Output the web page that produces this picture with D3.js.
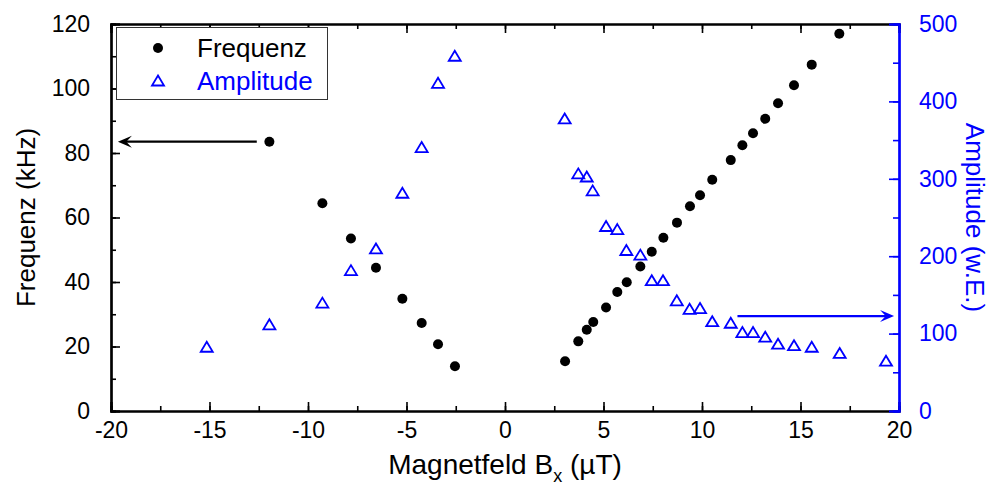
<!DOCTYPE html>
<html>
<head>
<meta charset="utf-8">
<script src="https://cdn.jsdelivr.net/npm/d3@7"></script>
<style>
  html, body { margin: 0; padding: 0; background: #fff; }
  svg { display: block; font-family: "Liberation Sans", Arial, sans-serif; }
</style>
</head>
<body>
<div id="chart"></div>
<script>
// Data
const freqField = [-11.96, -9.27, -7.82, -6.55, -5.21, -4.23, -3.4, -2.54,
  3.05, 3.72, 4.15, 4.48, 5.13, 5.7, 6.18, 6.87, 7.45, 8.04, 8.73, 9.39, 9.9,
  10.52, 11.46, 12.05, 12.59, 13.21, 13.86, 14.67, 15.57, 16.97];
const freqValues = [83.5, 64.4, 53.5, 44.4, 34.8, 27.3, 20.7, 13.9,
  15.4, 21.6, 25.2, 27.6, 32.1, 36.9, 39.9, 44.8, 49.4, 53.7, 58.4, 63.5, 66.9,
  71.7, 77.8, 82.4, 86.1, 90.6, 95.4, 101.0, 107.4, 117.0];

const ampField = [-15.14, -11.96, -9.27, -7.82, -6.55, -5.21, -4.23, -3.4, -2.55,
  3.03, 3.72, 4.15, 4.45, 5.13, 5.7, 6.16, 6.87, 7.45, 8.02, 8.72, 9.37, 9.9,
  10.52, 11.46, 12.05, 12.59, 13.21, 13.86, 14.67, 15.57, 16.99, 19.34];
const ampValues = [83, 112, 140, 182, 210, 282, 341, 424, 459,
  378, 307, 303, 285, 239, 235, 208, 202, 169, 169, 143, 132, 133,
  116, 114, 102, 102, 96, 87, 85, 83, 75, 65];

const xTicks = [-20, -15, -10, -5, 0, 5, 10, 15, 20];
const yTicks = [0, 20, 40, 60, 80, 100, 120];
const y2Ticks = [0, 100, 200, 300, 400, 500];

const seriesNames = ["Frequenz", "Amplitude"];

// arrows point each series to its axis: [x0, x1, y]
const freqArrow = [-12.6, -19.65, 83.5];
const ampArrow = [11.8, 19.75, 122.7];

const width = 995;
const height = 489;
const margin = { top: 24, right: 96, bottom: 78, left: 111 };
const blue = "#0000ff";

const x = d3.scaleLinear().domain([-20, 20]).range([margin.left, width - margin.right]);
const y = d3.scaleLinear().domain([0, 120]).range([height - margin.bottom, margin.top]);
const y2 = d3.scaleLinear().domain([0, 500]).range([height - margin.bottom, margin.top]);

const svg = d3.select("#chart")
  .append("svg")
  .attr("width", width)
  .attr("height", height);

// triangle centred on its bounding box
function triangle(cx, cy, w, h) {
  return `M${cx},${cy - h / 2}L${cx + w / 2},${cy + h / 2}L${cx - w / 2},${cy + h / 2}Z`;
}

function arrowHead(tipX, tipY, dir, len, half) {
  const b = tipX - dir * len;
  const n = tipX - dir * len * 0.6;
  return `M${tipX},${tipY}L${b},${tipY - half}L${n},${tipY}L${b},${tipY + half}Z`;
}

const fontTick = 23;
const fontTitle = 26;

// minor ticks every half step
const xMinor = d3.range(-20, 20.01, 2.5);
const yMinor = d3.range(0, 120.01, 10);
const y2Minor = d3.range(0, 500.01, 50);

const axes = svg.append("g").attr("class", "axes");

// bottom and top x axes (ticks inward)
axes.append("g").attr("transform", `translate(0,${y(0)})`)
  .call(d3.axisBottom(x).tickValues(xMinor).tickSize(-5).tickFormat(""));
axes.append("g").attr("transform", `translate(0,${y(0)})`)
  .call(d3.axisBottom(x).tickValues(xTicks).tickSize(-9).tickPadding(11))
  .call((g) => g.selectAll("text").attr("font-size", fontTick).attr("font-family", null)
    .text((d) => (d < 0 ? "-" + Math.abs(d) : d)));
axes.append("g").attr("transform", `translate(0,${y(120)})`)
  .call(d3.axisTop(x).tickValues(xMinor).tickSize(-5).tickFormat(""));
axes.append("g").attr("transform", `translate(0,${y(120)})`)
  .call(d3.axisTop(x).tickValues(xTicks).tickSize(-9).tickFormat(""));

// left axis
axes.append("g").attr("transform", `translate(${x(-20)},0)`)
  .call(d3.axisLeft(y).tickValues(yMinor).tickSize(-5).tickFormat(""));
axes.append("g").attr("transform", `translate(${x(-20)},0)`)
  .call(d3.axisLeft(y).tickValues(yTicks).tickSize(-9).tickPadding(21))
  .call((g) => g.selectAll("text").attr("font-size", fontTick).attr("font-family", null));

axes.selectAll(".domain").attr("stroke", "#000");

// right axis, blue
const right = axes.append("g").attr("transform", `translate(${x(20)},0)`);
right.append("g").call(d3.axisRight(y2).tickValues(y2Minor).tickSize(-6).tickFormat(""));
right.append("g").call(d3.axisRight(y2).tickValues(y2Ticks).tickSize(-10).tickPadding(20))
  .call((g) => g.selectAll("text").attr("font-size", fontTick).attr("font-family", null));
right.selectAll("line, path").attr("stroke", blue);
right.selectAll("text").attr("fill", blue);

axes.selectAll(".domain").attr("stroke-width", 2.2);
axes.selectAll(".tick line").attr("stroke-width", 1.6);

// axis titles
svg.append("text")
  .attr("x", (x(-20) + x(20)) / 2)
  .attr("y", 474)
  .attr("text-anchor", "middle")
  .attr("font-size", 28)
  .call((t) => {
    t.append("tspan").text("Magnetfeld B");
    t.append("tspan").attr("font-size", 18).attr("dy", 8).text("x");
    t.append("tspan").attr("dy", -8).text(" (\u00b5T)");
  });

svg.append("text")
  .attr("transform", `translate(35,${(y(0) + y(120)) / 2}) rotate(-90)`)
  .attr("text-anchor", "middle")
  .attr("font-size", fontTitle)
  .text("Frequenz (kHz)");

svg.append("text")
  .attr("transform", `translate(966,${(y(0) + y(120)) / 2}) rotate(90)`)
  .attr("text-anchor", "middle")
  .attr("font-size", fontTitle)
  .attr("fill", blue)
  .text("Amplitude (w.E.)");

// marks
svg.append("g")
  .attr("class", "freq")
  .selectAll("circle")
  .data(d3.zip(freqField, freqValues))
  .join("circle")
  .attr("cx", (d) => x(d[0]))
  .attr("cy", (d) => y(d[1]))
  .attr("r", 5)
  .attr("fill", "#000");

svg.append("g")
  .attr("class", "amp")
  .selectAll("path")
  .data(d3.zip(ampField, ampValues))
  .join("path")
  .attr("d", (d) => triangle(x(d[0]), y2(d[1]), 12, 10))
  .attr("fill", "none")
  .attr("stroke", blue)
  .attr("stroke-width", 1.8);

// arrows
function arrow(a, scale, color) {
  const g = svg.append("g").attr("class", "arrow");
  const dir = a[1] > a[0] ? 1 : -1;
  g.append("line")
    .attr("x1", x(a[0]))
    .attr("x2", x(a[1]) - dir * 6)
    .attr("y1", scale(a[2]))
    .attr("y2", scale(a[2]))
    .attr("stroke", color)
    .attr("stroke-width", 2.2);
  g.append("path")
    .attr("d", arrowHead(x(a[1]), scale(a[2]), dir, 14, 6))
    .attr("fill", color);
}
arrow(freqArrow, y, "#000");
arrow(ampArrow, y2, blue);

// legend
const legend = svg.append("g").attr("class", "legend");
legend.append("rect")
  .attr("x", 116.5)
  .attr("y", 27.5)
  .attr("width", 211)
  .attr("height", 72)
  .attr("fill", "#fff")
  .attr("stroke", "#333")
  .attr("stroke-width", 1);
legend.append("circle").attr("cx", 158).attr("cy", 48).attr("r", 5).attr("fill", "#000");
legend.append("path")
  .attr("d", triangle(158, 80.5, 12, 10))
  .attr("fill", "none")
  .attr("stroke", blue)
  .attr("stroke-width", 1.8);
legend.selectAll("text")
  .data(seriesNames)
  .join("text")
  .attr("x", 197)
  .attr("y", (d, i) => 57 + i * 33)
  .attr("font-size", fontTitle)
  .attr("fill", (d, i) => (i === 0 ? "#000" : blue))
  .text((d) => d);
</script>
</body>
</html>
